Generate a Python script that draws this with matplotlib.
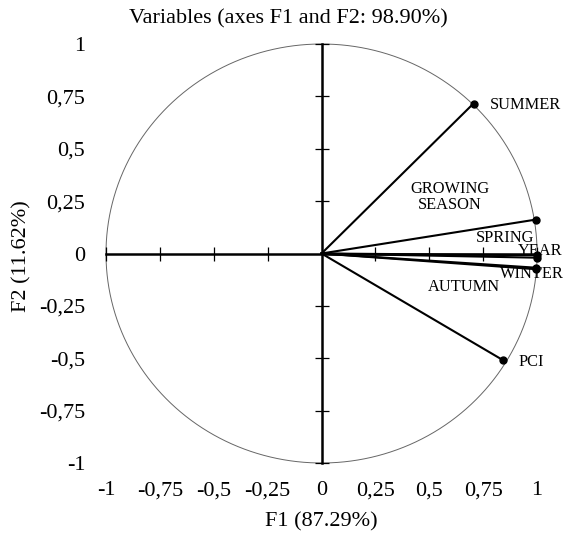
import numpy as np
import matplotlib.pyplot as plt

# Variables et coordonnées sur F1 / F2
variables = ["SUMMER", "GROWING\nSEASON", "SPRING", "YEAR", "WINTER", "AUTUMN", "PCI"]
f1 = [0.705, 0.995, 0.998, 0.999, 0.997, 0.996, 0.84]
f2 = [0.716, 0.162, -0.008, -0.02, -0.068, -0.075, -0.508]
# position des étiquettes (données)
lab_x = [0.78, 0.594, 0.715, 0.91, 0.826, 0.492, 0.914]
lab_y = [0.711, 0.27, 0.076, 0.01, -0.10, -0.158, -0.52]
lab_ha = ["left", "center", "left", "left", "left", "left", "left"]

ticks = [-1, -0.75, -0.5, -0.25, 0, 0.25, 0.5, 0.75, 1]
tick_labels = ["-1", "-0,75", "-0,5", "-0,25", "0", "0,25", "0,5", "0,75", "1"]

plt.rcParams['font.family'] = ['Liberation Serif', 'DejaVu Serif']

fig = plt.figure(figsize=(5.65, 5.36), dpi=100)
ax = fig.add_axes([0.1876, 0.1362, 0.763, 0.7817])
ax.set_xlim(-1, 1)
ax.set_ylim(-1, 1)
for s in ax.spines.values():
    s.set_visible(False)

ax.set_xticks(ticks)
ax.set_xticklabels(tick_labels)
ax.set_yticks(ticks)
ax.set_yticklabels(tick_labels)
ax.tick_params(axis='both', length=0, labelsize=16)
ax.tick_params(axis='x', pad=13)
ax.tick_params(axis='y', pad=15)

# cercle des corrélations
t = np.linspace(0, 2 * np.pi, 400)
ax.plot(np.cos(t), np.sin(t), color='#666666', lw=0.7, clip_on=False)

# axes en croix
ax.axhline(0, color='black', lw=1.8, clip_on=False)
ax.axvline(0, color='black', lw=1.8, clip_on=False)
tk = [v for v in ticks if v != 0]
ax.plot(tk, [0] * len(tk), ls='none', marker='|', ms=10, mew=0.9, color='black', clip_on=False)
ax.plot([0] * len(tk), tk, ls='none', marker='_', ms=10, mew=0.9, color='black', clip_on=False)

# vecteurs
for x, y in zip(f1, f2):
    ax.plot([0, x], [0, y], color='black', lw=1.5, clip_on=False)
ax.plot(f1, f2, ls='none', marker='o', ms=5, color='black', clip_on=False)

for name, x, y, ha in zip(variables, lab_x, lab_y, lab_ha):
    ax.text(x, y, name, fontsize=11.8, ha=ha, va='center', linespacing=1.0)

fig.text(0.51, 1 - 23 / 536, "Variables (axes F1 and F2: 98.90%)", fontsize=16,
         ha='center', va='baseline')
ax.set_xlabel("F1 (87.29%)", fontsize=16, labelpad=9)
fig.text(22 / 565, 1 - 256 / 536, "F2 (11.62%)", fontsize=16, rotation=90,
         ha='center', va='center')

fig.savefig("out.png", dpi=100)
